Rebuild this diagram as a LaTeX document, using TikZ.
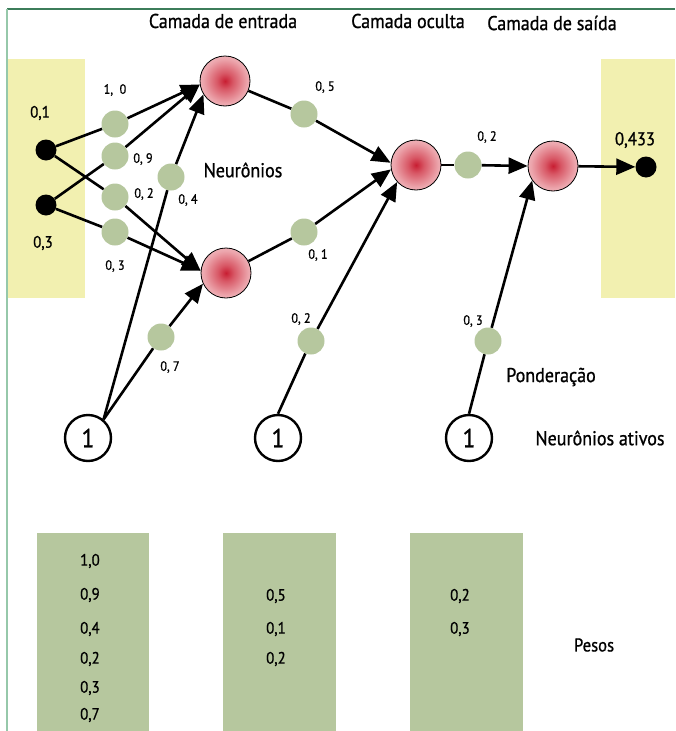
\documentclass[tikz,border=0pt]{standalone}
\usepackage{fontspec}
\setmainfont{PT Sans}[FakeStretch=0.9, FakeBold=0.9]
\usetikzlibrary{arrows.meta}
\pgfdeclarelayer{bg}
\pgfdeclarelayer{edges}
\pgfsetlayers{bg,edges,main}
\definecolor{ylw}{RGB}{242,240,176}
\definecolor{wgreen}{RGB}{182,199,158}
\definecolor{topline}{RGB}{60,125,90}
\definecolor{leftline}{RGB}{150,200,170}
\definecolor{nred}{RGB}{200,30,50}
\definecolor{nredA}{RGB}{216,88,102}
\definecolor{nredB}{RGB}{236,165,172}
\definecolor{nredC}{RGB}{247,218,221}
\definecolor{nredD}{RGB}{253,246,246}
\pgfdeclareradialshading{neuronshade}{\pgfpoint{0bp}{0bp}}{color(0bp)=(nred); color(8bp)=(nredA); color(22bp)=(nredB); color(38bp)=(nredC); color(50bp)=(nredD)}
\newcommand\setfs[1]{\fontsize{#1}{#1}\selectfont}
\tikzset{
  neuron/.style={circle, draw=black, line width=0.8pt, minimum size=50pt, inner sep=0pt, shading=neuronshade},
  indot/.style={circle, fill=black, minimum size=21pt, inner sep=0pt},
  bias/.style={circle, draw=black, line width=2.4pt, minimum size=46pt, inner sep=0pt, font=\setfs{26}},
  wdot/.style={circle, fill=wgreen, minimum size=27pt, inner sep=0pt},
  ln/.style={line width=2.6pt, black},
  arr/.style={line width=2.6pt, black, -{Triangle[length=19pt,width=16pt]}},
  wlab/.style={font=\setfs{13.5}, inner sep=0pt},
  title/.style={font=\setfs{20}, inner sep=0pt},
  boxval/.style={font=\setfs{16.5}, inner sep=0pt, anchor=west},
  wbox/.style={fill=wgreen, draw=none}
}
\begin{document}
\begin{tikzpicture}[x=1pt,y=-1pt]
\useasboundingbox (0,0) rectangle (675,731);
\begin{pgfonlayer}{bg}
  \fill[ylw] (7,59) rectangle (85,298);
  \fill[ylw] (601,59) rectangle (675,298);
  \fill[wbox] (37,533) rectangle (149,731);
  \fill[wbox] (223,533) rectangle (336,731);
  \fill[wbox] (410,533) rectangle (523,731);
  \draw[topline, line width=1.5pt] (7,9) -- (675,9);
  \draw[leftline, line width=2.5pt] (7,9) -- (7,731);
\end{pgfonlayer}

% neurons and nodes
\node[neuron] (n1) at (225,81) {};
\node[neuron] (n2) at (226,273) {};
\node[neuron] (m) at (416,165) {};
\node[neuron] (o) at (553,166) {};
\node[indot] (i1) at (46,150) {};
\node[indot] (i2) at (46,205) {};
\node[indot] (out) at (646,167) {};
\node[bias] (b1) at (88,438) {1};
\node[bias] (b2) at (278,438) {1};
\node[bias] (b3) at (469,438) {1};

% weight dots
\node[wdot] (w10) at (115,124) {};
\node[wdot] (w09) at (115,156) {};
\node[wdot] (w02a) at (115,197) {};
\node[wdot] (w03a) at (115,232) {};
\node[wdot] (w04) at (171,177) {};
\node[wdot] (w07) at (161,337) {};
\node[wdot] (w05) at (304,114) {};
\node[wdot] (w01) at (304,232) {};
\node[wdot] (w02b) at (311,341) {};
\node[wdot] (w02c) at (468,165) {};
\node[wdot] (w03b) at (488,341) {};

% connectors
\begin{pgfonlayer}{edges}
  \draw[ln] (i1) -- (w10);  \draw[arr] (w10) -- (n1.188);
  \draw[ln] (i2) -- (w09);  \draw[arr] (w09) -- (n1.188);
  \draw[ln] (i1) -- (w02a); \draw[arr] (w02a) -- (n2.175);
  \draw[ln] (i2) -- (w03a); \draw[arr] (w03a) -- (n2.175);
  \draw[ln] (b1.50) -- (w04); \draw[arr] (w04) -- (n1.-148);
  \draw[ln] (b1.50) -- (w07); \draw[arr] (w07) -- (n2.-155);
  \draw[ln] (n1) -- (w05);  \draw[arr] (w05) -- (m.175);
  \draw[ln] (n2) -- (w01);  \draw[arr] (w01) -- (m.190);
  \draw[ln] (b2.north) -- (w02b); \draw[arr] (w02b) -- (m.-138);
  \draw[ln] (m) -- (w02c);  \draw[arr] (w02c) -- (o.west);
  \draw[ln] (b3.north) -- (w03b); \draw[arr] (w03b) -- (o.-145);
  \draw[arr] (o) -- (out);
\end{pgfonlayer}

% weight labels
\node[wlab] (l10) at (115,90) {1,\ \ 0};
\node[wlab] (l09) at (143,159) {0, 9};
\node[wlab] (l02a) at (144,194) {0, 2};
\node[wlab] (l03a) at (115,266) {0, 3};
\node[wlab] (l04) at (188,200) {0, 4};
\node[wlab] (l05) at (325,87) {0, 5};
\node[wlab] (l01) at (318,255) {0, 1};
\node[wlab] (l07) at (170,367) {0, 7};
\node[wlab] (l02b) at (301,319) {0, 2};
\node[wlab] (l02c) at (487,137) {0, 2};
\node[wlab] (l03b) at (473,321) {0, 3};

% titles and texts
\node[title] (t1) at (223,21) {Camada de entrada};
\node[title] (t2) at (408,21) {Camada oculta};
\node[title] (t3) at (552,23) {Camada de saída};
\node[title] (neur) at (243,170) {Neurônios};
\node[title] (pond) at (551,377) {Ponderação};
\node[title] (nat) at (600,438) {Neurônios ativos};
\node[font=\setfs{18.5}, inner sep=0pt] (pesos) at (594,645) {Pesos};
\node[font=\setfs{16.5}, inner sep=0pt] (x1) at (40,113) {0,1};
\node[font=\setfs{16.5}, inner sep=0pt] (x2) at (43,243) {0,3};
\node[font=\setfs{18.5}, inner sep=0pt] (y) at (635,140) {0,433};

% weight tables
\node[boxval] (p1) at (80,561) {1,0};
\node[boxval] (p2) at (80,595) {0,9};
\node[boxval] (p3) at (80,629) {0,4};
\node[boxval] (p4) at (80,659) {0,2};
\node[boxval] (p5) at (80,688) {0,3};
\node[boxval] (p6) at (80,715) {0,7};
\node[boxval] (q1) at (266,596) {0,5};
\node[boxval] (q2) at (266,629) {0,1};
\node[boxval] (q3) at (266,659) {0,2};
\node[boxval] (r1) at (450,596) {0,2};
\node[boxval] (r2) at (450,629) {0,3};
\end{tikzpicture}
\end{document}
